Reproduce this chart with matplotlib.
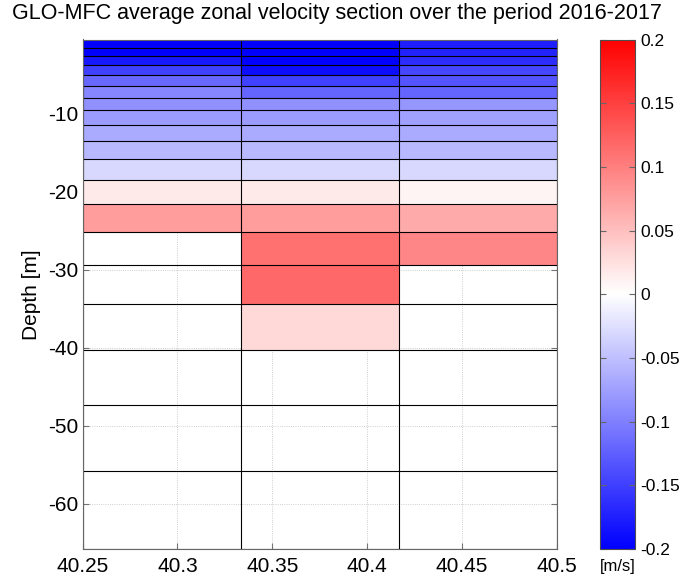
import numpy as np
import matplotlib
matplotlib.use("Agg")
import matplotlib.pyplot as plt
from matplotlib.ticker import FuncFormatter

plt.rcParams['font.family'] = ['Liberation Sans', 'DejaVu Sans']
plt.rcParams['axes.unicode_minus'] = False

# model grid: longitude and depth edges of the section cells
lon_edges = [40.25, 40.3333, 40.4167, 40.5]
depth_edges = [0.494, 1.541, 2.646, 3.819, 5.078, 6.441, 7.930, 9.573,
               11.405, 13.467, 15.810, 18.496, 21.599, 25.211, 29.445,
               34.434, 40.344, 47.374, 55.764, 65.807]

# mean zonal velocity [m/s] per layer (top to bottom), one list per column
nan = np.nan
u_west = [-0.205, -0.200, -0.180, -0.149, -0.118, -0.094, -0.086, -0.078,
          -0.067, -0.055, -0.031, 0.016, 0.078, nan, nan, nan, nan, nan, nan]
u_mid = [-0.215, -0.210, -0.205, -0.188, -0.149, -0.121, -0.086, -0.078,
         -0.067, -0.055, -0.031, 0.016, 0.078, 0.112, 0.118, 0.031, nan, nan, nan]
u_east = [-0.176, -0.173, -0.165, -0.145, -0.133, -0.121, -0.082, -0.074,
          -0.067, -0.055, -0.031, 0.008, 0.067, 0.094, nan, nan, nan, nan, nan]

cbar_ticks = [-0.2, -0.15, -0.1, -0.05, 0, 0.05, 0.1, 0.15, 0.2]
xticks = [40.25, 40.3, 40.35, 40.4, 40.45, 40.5]
yticks = [-60, -50, -40, -30, -20, -10]

U = np.ma.masked_invalid(np.column_stack([u_west, u_mid, u_east]))
z_edges = -np.array(depth_edges)

fig = plt.figure(figsize=(6.8, 5.83), dpi=100)
ax = fig.add_axes([82.5 / 680, 34 / 583, 474.5 / 680, 509.5 / 583])

pc = ax.pcolormesh(lon_edges, z_edges, U, cmap='bwr', vmin=-0.2, vmax=0.2,
                   shading='flat', zorder=1)

# cell outlines, also around empty cells
ax.hlines(z_edges, lon_edges[0], lon_edges[-1], colors='k', linewidth=0.8, zorder=2)
ax.vlines(lon_edges, z_edges[-1], z_edges[0], colors='k', linewidth=0.8, zorder=2)

ax.set_xlim(lon_edges[0], lon_edges[-1])
ax.set_ylim(z_edges[-1], z_edges[0])
ax.set_xticks(xticks)
ax.set_xticklabels([f'{v:g}' for v in xticks])
ax.set_yticks(yticks)
ax.set_axisbelow(True)
ax.grid(True, linestyle=':', color='0.75', linewidth=0.6)
ax.tick_params(direction='in', top=True, right=True, length=4, color='0.45',
               labelsize=15)
ax.tick_params(axis='x', pad=6)
ax.tick_params(axis='y', pad=3)
for sp in ax.spines.values():
    sp.set_color('0.4')
    sp.set_linewidth(0.8)
ax.set_ylabel('Depth [m]', fontsize=15, labelpad=5)

fig.text(337 / 680, 1 - 14 / 583, 'GLO-MFC average zonal velocity section over the period 2016-2017',
         ha='center', va='center', fontsize=15.5)

cax = fig.add_axes([600 / 680, 34 / 583, 35 / 680, 509.5 / 583])
cb = fig.colorbar(pc, cax=cax, ticks=cbar_ticks,
                  format=FuncFormatter(lambda v, p: f'{v:g}'))
cb.outline.set_edgecolor('0.3')
cb.outline.set_linewidth(0.8)
cax.tick_params(direction='in', left=True, right=True, length=4, color='0.4',
                labelsize=12.5, pad=4)
cax.text(0.5, -0.034, '[m/s]', transform=cax.transAxes, ha='center', va='center',
         fontsize=12)

fig.savefig('out.png', dpi=100)
